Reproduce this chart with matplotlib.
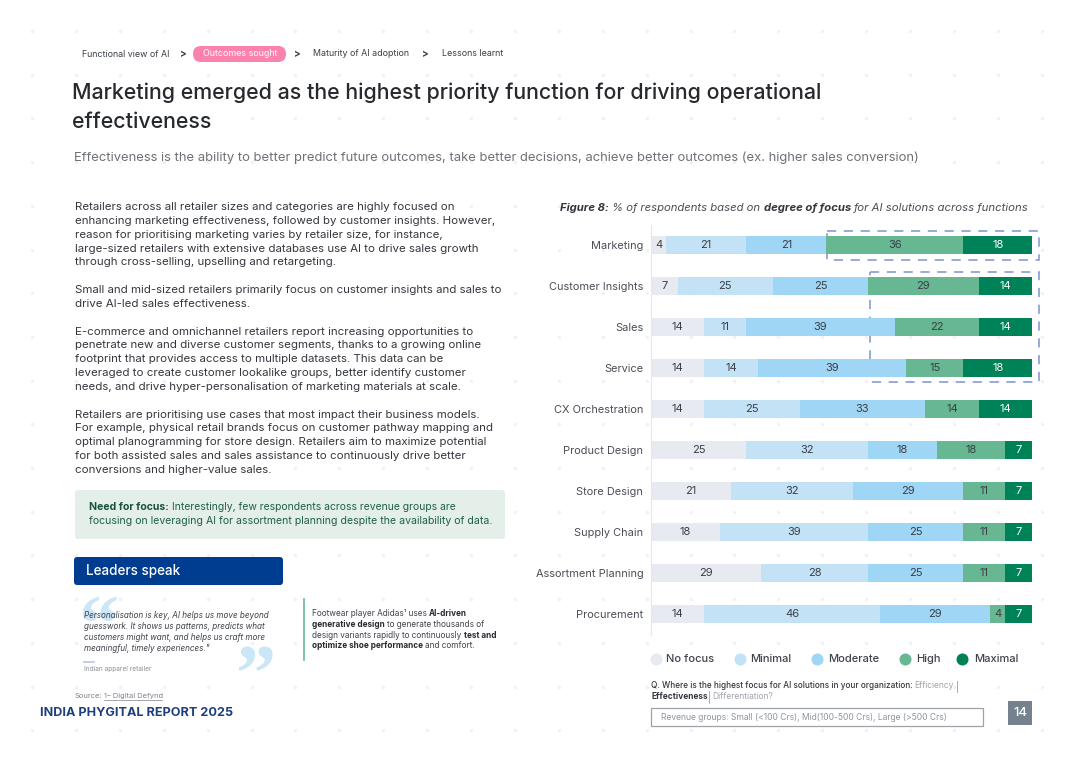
import numpy as np
import matplotlib
matplotlib.use("Agg")
import matplotlib.pyplot as plt
from matplotlib.patches import FancyBboxPatch, Rectangle

plt.rcParams['font.family'] = ['Inter', 'DejaVu Sans']

functions = ["Marketing", "Customer Insights", "Sales", "Service", "CX Orchestration",
             "Product Design", "Store Design", "Supply Chain", "Assortment Planning", "Procurement"]
levels = ["No focus", "Minimal", "Moderate", "High", "Maximal"]
no_focus = [4, 7, 14, 14, 14, 25, 21, 18, 29, 14]
minimal = [21, 25, 11, 14, 25, 32, 32, 39, 28, 46]
moderate = [21, 25, 39, 39, 33, 18, 29, 25, 25, 29]
high = [36, 29, 22, 15, 14, 18, 11, 11, 11, 4]
maximal = [18, 14, 14, 18, 14, 7, 7, 7, 7, 7]

colors = ["#e8eaf1", "#c3e2f6", "#9fd5f5", "#68b793", "#008259"]
text_colors = ["#3a3f47", "#3a3f47", "#3a3f47", "#3a3f47", "#ffffff"]

body_lines = [
    "Retailers across all retailer sizes and categories are highly focused on",
    "enhancing marketing effectiveness, followed by customer insights. However,",
    "reason for prioritising marketing varies by retailer size, for instance,",
    "large-sized retailers with extensive databases use AI to drive sales growth",
    "through cross-selling, upselling and retargeting.",
    "",
    "Small and mid-sized retailers primarily focus on customer insights and sales to",
    "drive AI-led sales effectiveness.",
    "",
    "E-commerce and omnichannel retailers report increasing opportunities to",
    "penetrate new and diverse customer segments, thanks to a growing online",
    "footprint that provides access to multiple datasets. This data can be",
    "leveraged to create customer lookalike groups, better identify customer",
    "needs, and drive hyper-personalisation of marketing materials at scale.",
    "",
    "Retailers are prioritising use cases that most impact their business models.",
    "For example, physical retail brands focus on customer pathway mapping and",
    "optimal planogramming for store design. Retailers aim to maximize potential",
    "for both assisted sales and sales assistance to continuously drive better",
    "conversions and higher-value sales.",
]
quote_lines = [
    "Personalisation is key, AI helps us move beyond",
    "guesswork. It shows us patterns, predicts what",
    "customers might want, and helps us craft more",
    "meaningful, timely experiences.\"",
]

fig = plt.figure(figsize=(10.8, 7.63), dpi=100, facecolor="white")

# page layer, works in pixels of the reference
page = fig.add_axes([0, 0, 1, 1])
page.set_xlim(0, 1080)
page.set_ylim(763, 0)
page.axis("off")

# dotted background
dot_x, dot_y = np.meshgrid(np.arange(32, 1070, 43.9), np.arange(31, 760, 43.7))
page.scatter(dot_x.ravel(), dot_y.ravel(), s=6, color="#f0f1f3", linewidths=0, zorder=0)


def txt(x, y, s, size=8, color="#33373d", **kw):
    kw.setdefault("va", "center")
    kw.setdefault("zorder", 5)
    return page.text(x, y, s, fontsize=size, color=color, **kw)


# breadcrumb
txt(82, 54.5, "Functional view of AI", 6.4, "#3a3f47")
txt(183, 54, ">", 7, "#3a3f47", ha="center", fontweight="bold")
page.add_patch(FancyBboxPatch((193, 46), 93, 16, boxstyle="round,pad=0,rounding_size=8",
                              fc="#fb82ac", ec="none", zorder=3))
txt(240, 54, "Outcomes sought", 6.4, "white", ha="center")
txt(297, 54, ">", 7, "#3a3f47", ha="center", fontweight="bold")
txt(313, 54, "Maturity of AI adoption", 6.4, "#3a3f47")
txt(425, 54, ">", 7, "#3a3f47", ha="center", fontweight="bold")
txt(442, 54, "Lessons learnt", 6.4, "#3a3f47")

# header
txt(72, 93, "Marketing emerged as the highest priority function for driving operational", 15.38, "#26292e", fontweight="medium")
txt(72, 122, "effectiveness", 15.38, "#26292e", fontweight="medium")
txt(74, 158, "Effectiveness is the ability to better predict future outcomes, take better decisions, "
    "achieve better outcomes (ex. higher sales conversion)", 9.36, "#6d7178")

# left column copy
for i, line in enumerate(body_lines):
    if line:
        txt(75, 207 + i * 13.84, line, 8.29, "#33373d")

# callout
page.add_patch(FancyBboxPatch((75, 490), 430, 49, boxstyle="round,pad=0,rounding_size=3",
                              fc="#e3efe8", ec="none", zorder=3))
txt(89, 506.5, "Need for focus:", 7.55, "#17533c", fontweight="bold")
txt(172, 506.5, "Interestingly, few respondents across revenue groups are", 7.48, "#1f6048")
txt(89, 520.5, "focusing on leveraging AI for assortment planning despite the availability of data.", 7.58, "#1f6048")

# leaders speak
page.add_patch(FancyBboxPatch((74, 557), 209, 28, boxstyle="round,pad=0,rounding_size=3",
                              fc="#003d91", ec="none", zorder=3))
txt(86, 570.5, "Leaders speak", 9.7, "white", fontweight="medium")
quote_font = ["Liberation Serif", "DejaVu Serif"]
txt(78, 650, "\u201c", 58, "#cbe6f7", fontweight="bold", family=quote_font, va="baseline", zorder=2)
txt(236, 700, "\u201d", 58, "#cbe6f7", fontweight="bold", family=quote_font, va="baseline", zorder=2)
for i, line in enumerate(quote_lines):
    txt(84, 616 + i * 10.9, line, 5.85, "#3f434a", fontstyle="italic")
page.plot([84, 94], [662, 662], color="#b9c6e2", lw=1.2, zorder=4)
txt(84, 669, "Indian apparel retailer", 4.7, "#8a8e95")

page.plot([303.5, 303.5], [599, 660], color="#68b793", lw=1.2, zorder=4)
txt(312, 613.5, "Footwear player Adidas\u00b9 uses", 5.9, "#3f434a")
txt(429, 613.5, "AI-driven", 5.9, "#26292e", fontweight="bold")
txt(312, 624.5, "generative design", 5.9, "#26292e", fontweight="bold")
txt(387, 624.5, "to generate thousands of", 5.9, "#3f434a")
txt(312, 635.5, "design variants rapidly to continuously", 5.9, "#3f434a")
txt(463.5, 635.5, "test and", 5.9, "#26292e", fontweight="bold")
txt(312, 646, "optimize shoe performance", 5.9, "#26292e", fontweight="bold")
txt(425, 646, "and comfort.", 5.9, "#3f434a")

# footer left
txt(75, 696, "Source:", 5.4, "#7d8188")
txt(104, 696, "1\u2013 Digital Defynd", 5.4, "#7d8188")
page.plot([104, 162], [700, 700], color="#7d8188", lw=0.5)
txt(40, 712.5, "INDIA PHYGITAL REPORT 2025", 9.07, "#1d3f7d", fontweight="bold")

# chart title
txt(559.5, 208, "Figure 8:", 8.1, "#33373d", fontweight="bold", fontstyle="italic")
txt(612, 208, "% of respondents based on", 8.15, "#4a4e55", fontstyle="italic")
txt(764, 208, "degree of focus", 8.15, "#33373d", fontweight="bold", fontstyle="italic")
txt(854, 208, "for AI solutions across functions", 8.2, "#4a4e55", fontstyle="italic")

# stacked bars, axes spans the plot area in reference pixels
x0, x1, y0, y1 = 651, 1032, 224.5, 634.5
ax = fig.add_axes([x0 / 1080, 1 - y1 / 763, (x1 - x0) / 1080, (y1 - y0) / 763])
ax.patch.set_alpha(0)
series = [no_focus, minimal, moderate, high, maximal]
ypos = np.arange(len(functions))
left = np.zeros(len(functions))
for vals, label, col, tcol in zip(series, levels, colors, text_colors):
    bars = ax.barh(ypos, vals, left=left, height=0.42, color=col, label=label, linewidth=0, zorder=2)
    ax.bar_label(bars, labels=[str(v) for v in vals], label_type="center",
                 color=tcol, fontsize=8)
    left += np.array(vals)

ax.set_xlim(0, sum(s[0] for s in series))
ax.set_ylim(len(functions) - 0.5, -0.5)
ax.set_yticks(ypos, functions)
ax.tick_params(axis="y", length=0, pad=5.5, labelsize=7.9, labelcolor="#4a4e55")
ax.xaxis.set_visible(False)
for side in ["top", "right", "bottom"]:
    ax.spines[side].set_visible(False)
ax.spines["left"].set_color("#e6e7ea")
ax.spines["left"].set_linewidth(0.8)

# dashed highlight boxes
page.add_patch(Rectangle((826.5, 231), 212.5, 28.5, fill=False, ec="#7f93cd", lw=1.1,
                         ls=(0, (6, 5)), zorder=6))
page.add_patch(Rectangle((870, 272), 169, 110, fill=False, ec="#7f93cd", lw=1.1,
                         ls=(0, (6, 5)), zorder=6))

# legend
legend_dot_x = [656, 740, 817, 905, 962]
legend_text_x = [666, 750, 828, 916, 974]
for dx, tx, label, col in zip(legend_dot_x, legend_text_x, levels, colors):
    page.scatter([dx], [659], s=75, color=col, linewidths=0, zorder=4)
    txt(tx, 659, label, 8, "#3f434a", fontweight="medium")

# survey question and notes
txt(651, 686, "Q. Where is the highest focus for AI solutions in your organization:", 5.92, "#33373d", fontweight="medium")
txt(914, 686, "Efficiency", 6.1, "#a0a4aa")
page.plot([957, 957], [681, 692], color="#9a9ea5", lw=0.6)
txt(651, 696.5, "Effectiveness", 6.0, "#33373d", fontweight="bold")
page.plot([708.5, 708.5], [691, 703], color="#9a9ea5", lw=0.6)
txt(712, 696.5, "Differentiation?", 6.1, "#a0a4aa")
page.add_patch(Rectangle((650.5, 708), 332, 18, fc="white", ec="#9da1a8", lw=0.9, zorder=3))
txt(661, 717, "Revenue groups: Small (<100 Crs), Mid(100-500 Crs), Large (>500 Crs)", 6.13, "#90949b")

# page number
page.add_patch(Rectangle((1008, 701), 24, 24, fc="#75818f", ec="none", zorder=3))
txt(1020, 713, "14", 9.5, "white", ha="center", fontweight="medium")

fig.savefig("out.png", dpi=100)
